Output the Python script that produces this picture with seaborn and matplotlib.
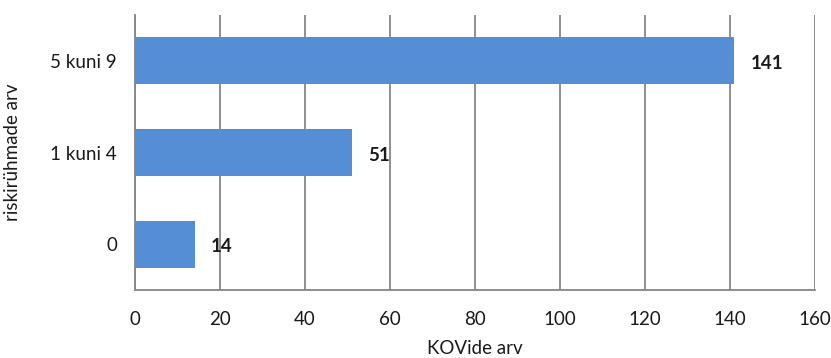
import matplotlib
matplotlib.use("Agg")
import matplotlib.pyplot as plt
from matplotlib.ticker import FixedLocator
import seaborn as sns
import pandas as pd

categories = ["5 kuni 9", "1 kuni 4", "0"]
counts = [141, 51, 14]
x_ticks = [0, 20, 40, 60, 80, 100, 120, 140, 160]

sns.set_style("white")
plt.rcParams["font.family"] = ["Lato", "DejaVu Sans"]

df = pd.DataFrame({"group": categories, "count": counts})

fig = plt.figure(figsize=(8.31, 3.58), dpi=100)
left, right, top, bottom = 135, 815, 15, 290
ax = fig.add_axes([left / 831, (358 - bottom) / 358,
                   (right - left) / 831, (bottom - top) / 358])

grid_col = "#868686"
bar_col = "#558ED5"
text_col = "#1a1a1a"
fs = 13.5

sns.barplot(data=df, x="count", y="group", order=categories, color=bar_col,
            saturation=1, width=0.51, orient="h", ax=ax, zorder=3,
            edgecolor="none")

ax.set_xlim(0, 160)
ax.set_ylim(2.5, -0.5)
ax.set_xticks(x_ticks)
ax.set_xticklabels([str(t) for t in x_ticks])

ax.xaxis.grid(True, color=grid_col, linewidth=1.3, zorder=0)
ax.yaxis.grid(False)
ax.set_axisbelow(True)

for side in ["top", "right"]:
    ax.spines[side].set_visible(False)
for side in ["left", "bottom"]:
    ax.spines[side].set_color(grid_col)
    ax.spines[side].set_linewidth(1.3)

# category boundaries carry the tick marks on the value axis
ax.yaxis.set_minor_locator(FixedLocator([-0.5, 0.5, 1.5, 2.5]))
ax.tick_params(axis="y", which="major", length=0, pad=13, labelsize=fs, labelcolor=text_col)
ax.tick_params(axis="y", which="minor", length=3.8, width=1.3, color=grid_col)
ax.tick_params(axis="x", which="major", length=3.8, width=1.3, color=grid_col,
               pad=11.2, labelsize=fs, labelcolor=text_col)

for i, v in enumerate(counts):
    ax.text(v + 3.9, i + 0.03, str(v), va="center", ha="left", fontsize=fs,
            fontweight="bold", color=text_col)

ax.set_xlabel("KOVide arv", fontsize=fs, color=text_col)
ax.set_ylabel("riskirühmade arv", fontsize=fs, color=text_col)
ax.xaxis.set_label_coords((475 - left) / (right - left), -(348 - bottom) / (bottom - top))
ax.yaxis.set_label_coords(-(left - 13) / (right - left), 0.5)
ax.xaxis.label.set_va("center")
ax.yaxis.label.set_va("center")

fig.savefig("out.png", dpi=100)
